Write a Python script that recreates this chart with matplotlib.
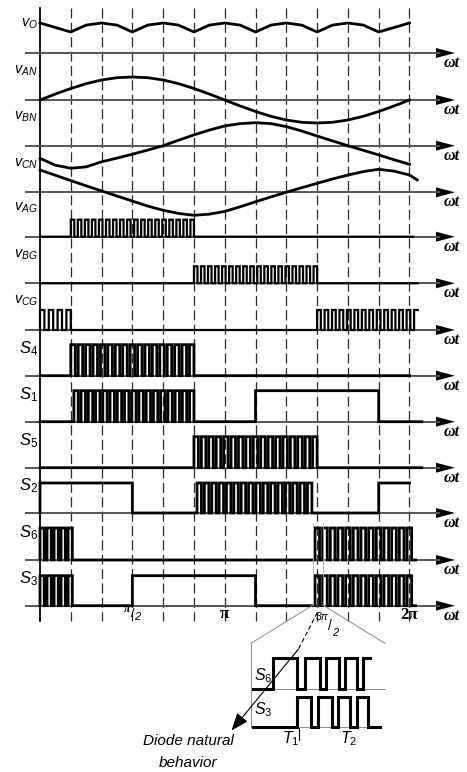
import numpy as np
import matplotlib.pyplot as plt

plt.rcParams['font.family'] = 'Liberation Sans'
plt.rcParams['mathtext.fontset'] = 'custom'
plt.rcParams['mathtext.it'] = 'Liberation Sans:italic'
plt.rcParams['mathtext.rm'] = 'Liberation Sans'

# ---- data: angle in sectors of pi/6 (0..12 -> 0..2pi) ----
half_steps = np.arange(0, 12.5, 0.5)

vo = [1.0, 0.85, 0.7, 0.93, 1.0, 0.93, 0.7, 0.93, 1.0, 0.93, 0.7, 0.93, 1.0,
      0.93, 0.7, 0.93, 1.0, 0.93, 0.7, 0.93, 1.0, 0.93, 0.7, 0.85, 1.0]
van = [0, 0.26, 0.5, 0.71, 0.87, 0.97, 1.0, 0.97, 0.87, 0.71, 0.5, 0.26, 0,
       -0.26, -0.5, -0.71, -0.87, -0.97, -1.0, -0.97, -0.87, -0.71, -0.5, -0.26, 0]
vbn = [-0.55, -0.85, -0.98, -0.92, -0.70, -0.54, -0.37, -0.19, 0.0, 0.24, 0.47, 0.68, 0.86,
       0.96, 1.0, 0.96, 0.83, 0.64, 0.42, 0.21, 0.0, -0.20, -0.40, -0.61, -0.81]
vcn_x = list(half_steps) + [12.25]
vcn = [0.97, 0.74, 0.51, 0.28, 0.06, -0.16, -0.38, -0.60, -0.78, -0.92, -1.0, -0.95, -0.83,
       -0.63, -0.41, -0.20, 0.0, 0.20, 0.39, 0.58, 0.75, 0.90, 1.0, 0.92, 0.75, 0.54]

# pwm trains (start, stop, number of pulses) and plain on-intervals (start, stop)
vag_pwm = [(1.0, 5.0, 18)]
vbg_pwm = [(5.0, 9.0, 18)]
vcg_pwm = [(0.0, 1.0, 4), (9.0, 12.27, 14)]
s4_pwm = [(1.0, 5.0, 17)]
s1_pwm = [(1.1, 5.0, 17)]
s1_on = [(7.0, 11.0)]
s5_pwm = [(5.0, 9.0, 17)]
s2_pwm = [(5.1, 8.83, 16)]
s2_on = [(0.0, 3.0), (11.0, 12.0)]
s6_pwm = [(0.0, 1.05, 5), (8.93, 12.07, 13)]
s3_pwm = [(0.0, 1.05, 5), (8.93, 12.07, 13)]
s3_on = [(3.0, 7.0)]

row_labels = [r'$v_O$', r'$v_{AN}$', r'$v_{BN}$', r'$v_{CN}$', r'$v_{AG}$', r'$v_{BG}$',
              r'$v_{CG}$', r'$S_4$', r'$S_1$', r'$S_5$', r'$S_2$', r'$S_6$', r'$S_3$']

# zoom around 3pi/2 (arbitrary time units)
inset_s6_on = [(22.3, 46.3), (54, 69), (75, 88.3), (94, 106.3), (112.3, 119)]
inset_s3_on = [(45.7, 60), (67.3, 80.7), (86.7, 99), (105.7, 117.3)]
inset_s6_end = 119
inset_s3_end = 129

# ---- layout (pixels) ----
W, H = 467, 772
X0, SEC = 40.0, 30.79
base = [53, 100, 145.7, 192.3, 236.7, 283.3, 330, 375.7, 421.7, 467.7, 513, 560, 605.7]


def px(x):
    return (x - X0) / SEC


def pwm(trains, duty):
    on = []
    for a, b, n in trains:
        p = (b - a) / (n - 1 + duty)
        on += [(a + k * p, a + k * p + duty * p) for k in range(n)]
    return on


def square(on, end):
    xs, ys = [0.0], [0.0]
    for a, b in sorted(on):
        if b >= end:
            xs += [a, a, b]
            ys += [0, 1, 1]
            return np.array(xs), np.array(ys)
        xs += [a, a, b, b]
        ys += [0, 1, 1, 0]
    xs.append(end)
    ys.append(0)
    return np.array(xs), np.array(ys)


fig = plt.figure(figsize=(W / 100, H / 100), dpi=100)
ax = fig.add_axes([0, 0, 1, 1])
ax.set_xlim(px(0), px(W))
ax.set_ylim(H, 0)
ax.axis('off')

# dashed sector lines and vertical axis
for s in range(1, 13):
    ax.plot([s, s], [8, 621], color='#2a2a2a', lw=0.9, dashes=(8, 3.5))
ax.plot([0, 0], [8, 621], color='k', lw=1.3)

# horizontal axes with arrows
for y in base:
    ax.plot([px(25), px(440)], [y, y], color='#555555', lw=1.4, solid_capstyle='butt')
    ax.fill([px(455), px(436), px(436)], [y, y - 5, y + 5], color='k', lw=0)
    ax.text(px(452), y + 10, 'ωt', family='Liberation Serif', weight='bold', style='italic',
            fontsize=11.5, ha='center', va='center')

# row labels
for i, (lab, y) in enumerate(zip(row_labels, base)):
    if i < 7:
        ax.text(px(38), y - 26, lab, fontsize=10.5, ha='right', va='baseline')
    else:
        ax.text(px(38), y - 22.5, lab, fontsize=12, ha='right', va='baseline')

# analog waveforms
wlw = 2.0
ax.plot(half_steps, base[0] - 30 * np.array(vo), color='k', lw=wlw)
ax.plot(half_steps, base[1] - 23 * np.array(van), color='k', lw=wlw)
ax.plot(half_steps, base[2] - 23 * np.array(vbn), color='k', lw=wlw)
ax.plot(vcn_x, base[3] - 23 * np.array(vcn), color='k', lw=wlw)

# switching waveforms: (on-intervals, end, height, linewidth)
rows = [
    (pwm(vag_pwm, 0.5), 12.12, 17, 1.6),
    (pwm(vbg_pwm, 0.5), 12.27, 17, 1.6),
    (pwm(vcg_pwm, 0.5), 12.27, 20, 1.6),
    (pwm(s4_pwm, 0.6), 12.0, 31, 2.0),
    (pwm(s1_pwm, 0.6) + s1_on, 12.4, 31, 2.0),
    (pwm(s5_pwm, 0.6), 12.4, 31, 2.0),
    (pwm(s2_pwm, 0.6) + s2_on, 12.0, 30, 2.0),
    (pwm(s6_pwm, 0.6), 12.2, 32, 2.0),
    (pwm(s3_pwm, 0.6) + s3_on, 12.2, 30, 2.0),
]
for (on, end, h, lw), y in zip(rows, base[4:]):
    xs, ys = square(on, end)
    ax.plot(xs, y - h * ys, color='k', lw=lw, solid_joinstyle='miter', snap=False)

# angle labels
serif = dict(family='Liberation Serif', weight='bold')
ax.text(3 - 0.16, 609.5, 'π', fontsize=8.5, style='italic', ha='center', va='center', **serif)
ax.text(3, 614, '/', fontsize=9, ha='center', va='center')
ax.text(3 + 0.17, 616.5, '2', fontsize=8, style='italic', ha='center', va='center')
ax.text(6, 614, 'π', fontsize=12.5, ha='center', va='center', **serif)
ax.text(px(322), 617.5, '3π', fontsize=7.5, style='italic', ha='center', va='center')
ax.text(px(329.5), 626, '/', fontsize=10, ha='center', va='center')
ax.text(px(335.5), 633.5, '2', fontsize=8, style='italic', ha='center', va='center')
ax.text(12, 615, '2π', fontsize=12, ha='center', va='center', **serif)

# zoom frame
grey = '#8a8a8a'
ax.plot([px(313), px(313)], [523, 605], color='#b0b0b0', lw=0.6)
ax.plot([px(322.7), px(322.7)], [523, 605], color='#b0b0b0', lw=0.6)
ax.plot([px(313), px(251)], [605, 643.3], color=grey, lw=0.7)
ax.plot([px(322.7), px(385)], [605, 643.3], color=grey, lw=0.7)
ax.plot([px(251), px(251)], [643.3, 727.3], color=grey, lw=0.7)
ax.plot([px(251), px(385)], [689.3, 689.3], color=grey, lw=0.7)
ax.plot([px(251), px(380)], [727.3, 727.3], color=grey, lw=0.7)

# diode natural behaviour pointer
ax.plot([px(317.3), px(298.3)], [612.7, 649.3], color='k', lw=0.8, dashes=(4, 2.5))
ax.annotate('', xy=(px(231.5), 730.5), xytext=(px(298.3), 649.3),
            arrowprops=dict(arrowstyle='-|>,head_length=0.9,head_width=0.35',
                            color='k', lw=0.8, mutation_scale=12, shrinkA=0, shrinkB=0))
ax.text(px(188), 741, 'Diode natural', fontsize=11, style='italic', ha='center', va='center')
ax.text(px(188), 763, 'behavior', fontsize=11, style='italic', ha='center', va='center')

# inset axes
ins = fig.add_axes([251 / W, 1 - 750 / H, 134 / W, 110 / H])
ins.set_xlim(0, 134)
ins.set_ylim(750, 640)
ins.axis('off')
for on, end, y, h in [(inset_s6_on, inset_s6_end, 689.3, 31), (inset_s3_on, inset_s3_end, 727.3, 30.6)]:
    xs, ys = square(on, end)
    xs[0] = 2.3
    ins.plot(xs, y - h * ys, color='k', lw=2.2, solid_joinstyle='miter', clip_on=False)
ins.text(3, 680, r'$S_6$', fontsize=11.5, ha='left', va='baseline')
ins.text(3, 714, r'$S_3$', fontsize=11.5, ha='left', va='baseline')
ins.plot([48.3, 48.3], [728, 740], color='k', lw=0.8)
ins.text(31, 743.5, r'$T_1$', fontsize=11.5, ha='left', va='baseline')
ins.text(89, 743.5, r'$T_2$', fontsize=11.5, ha='left', va='baseline')

fig.savefig('out.png', dpi=100)
